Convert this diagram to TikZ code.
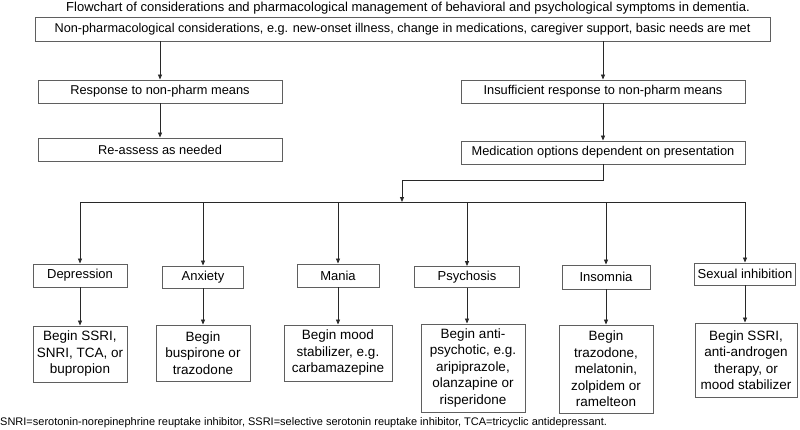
\documentclass[tikz,border=0pt]{standalone}
\usepackage{fontspec}
\setmainfont{Liberation Sans}
\usetikzlibrary{arrows.meta}
\definecolor{boxgray}{RGB}{95,95,95}
\definecolor{linegray}{RGB}{40,40,40}

\begin{document}
\begin{tikzpicture}[x=1pt, y=-1pt,
    box/.style={draw=boxgray, line width=0.9pt, inner sep=0pt, align=center,
        font=\fontsize{12.8}{15}\selectfont},
    cat/.style={box, font=\fontsize{13}{15}\selectfont},
    trt/.style={box, font=\fontsize{13.5}{16.5}\selectfont},
    arr/.style={draw=linegray, line width=0.8pt, -{Triangle[length=5pt,width=4pt]}}]
\useasboundingbox (0,0) rectangle (800,429);

%%% titre
\node (title) at (408,8) {\fontsize{13}{15}\selectfont Flowchart of considerations and pharmacological management of behavioral and psychological symptoms in dementia.};

%%% haut
\node[box, minimum width=735, minimum height=24, font=\fontsize{12.7}{15}\selectfont] (top) at (402.5,29) {Non-pharmacological considerations, e.g. new-onset illness, change in medications, caregiver support, basic needs are met};

% gauche
\node[box, minimum width=244, minimum height=23] (resp) at (160,91.5) {Response to non-pharm means};
\node[box, minimum width=244, minimum height=23] (reass) at (160,149.5) {Re-assess as needed};

% droite
\node[box, minimum width=284, minimum height=23] (insuf) at (603,91.5) {Insufficient response to non-pharm means};
\node[box, minimum width=284, minimum height=23] (medic) at (603,152.5) {Medication options dependent on presentation};

%%% symptomes
\node[cat, minimum width=94, minimum height=23] (depr) at (80,275.5) {Depression};
\node[cat, minimum width=81, minimum height=22] (anx) at (203,277) {Anxiety};
\node[cat, minimum width=82, minimum height=23] (mania) at (338,275.5) {Mania};
\node[cat, minimum width=105, minimum height=21] (psy) at (467,277) {Psychosis};
\node[cat, minimum width=88, minimum height=24] (insom) at (606,277) {Insomnia};
\node[cat, minimum width=101, minimum height=22] (sexinh) at (745,274) {Sexual inhibition};

%%% traitements
\node[trt, minimum width=94, minimum height=56] (trt-depr) at (80,354) {Begin SSRI,\\SNRI, TCA, or\\bupropion};
\node[trt, minimum width=94, minimum height=56] (trt-anx) at (203,353) {Begin\\buspirone or\\trazodone};
\node[trt, minimum width=108, minimum height=56] (trt-mania) at (338,353) {Begin mood\\stabilizer, e.g.\\carbamazepine};
\node[trt, minimum width=104, minimum height=88] (trt-psy) at (473,368) {Begin anti-\\psychotic, e.g.\\aripiprazole,\\olanzapine or\\risperidone};
\node[trt, minimum width=94, minimum height=88] (trt-insom) at (606,369) {Begin\\trazodone,\\melatonin,\\zolpidem or\\ramelteon};
\node[trt, minimum width=102, minimum height=74] (trt-sexinh) at (746,360) {Begin SSRI,\\anti-androgen\\therapy, or\\mood stabilizer};

%%% note
\node[anchor=west, inner sep=0pt] (note) at (0,423) {\fontsize{11}{13}\selectfont SNRI=serotonin-norepinephrine reuptake inhibitor, SSRI=selective serotonin reuptake inhibitor, TCA=tricyclic antidepressant.};

%%% liens
\draw[arr] (top.south -| resp.north) -- (resp.north);
\draw[arr] (resp) -- (reass);
\draw[arr] (top.south -| insuf.north) -- (insuf.north);
\draw[arr] (insuf) -- (medic);

\coordinate (split) at (402,180);
\coordinate (bus) at (402,202);
\draw[draw=linegray, line width=0.8pt] (medic.south) -- (medic.south |- split) -- (split);
\draw[arr] (split) -- (bus);
\draw[draw=linegray, line width=0.8pt] (bus -| depr.north) -- (bus -| sexinh.north);

\draw[arr] (bus -| depr.north) -- (depr.north);
\draw[arr] (bus -| anx.north) -- (anx.north);
\draw[arr] (bus -| mania.north) -- (mania.north);
\draw[arr] (bus -| psy.north) -- (psy.north);
\draw[arr] (bus -| insom.north) -- (insom.north);
\draw[arr] (bus -| sexinh.north) -- (sexinh.north);

\draw[arr] (depr.south) -- (depr.south |- trt-depr.north);
\draw[arr] (anx.south) -- (anx.south |- trt-anx.north);
\draw[arr] (mania.south) -- (mania.south |- trt-mania.north);
\draw[arr] (psy.south) -- (psy.south |- trt-psy.north);
\draw[arr] (insom.south) -- (insom.south |- trt-insom.north);
\draw[arr] (sexinh.south) -- (sexinh.south |- trt-sexinh.north);
\end{tikzpicture}
\end{document}
